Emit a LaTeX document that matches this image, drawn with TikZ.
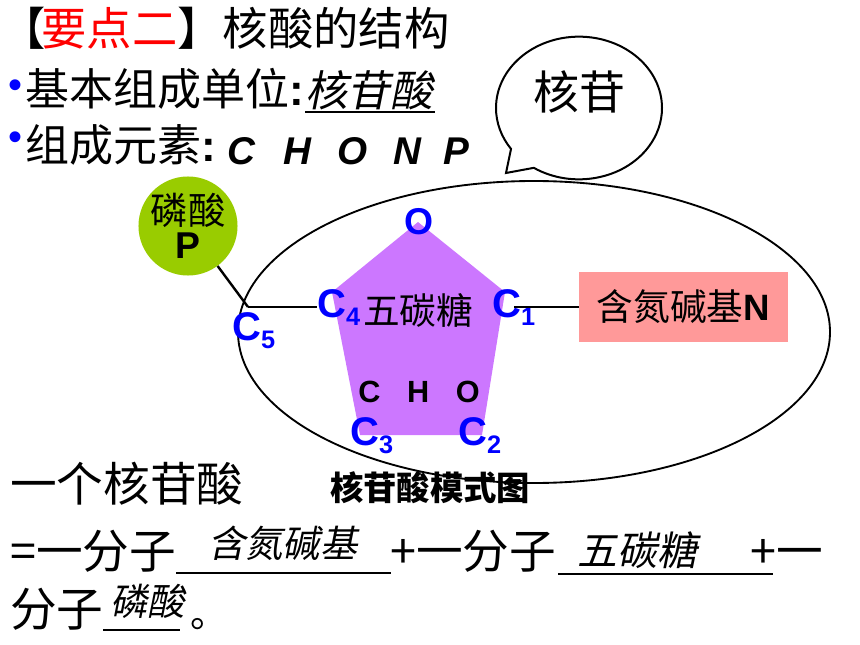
\documentclass[tikz,border=0pt]{standalone}
\usepackage{fontspec}
\setmainfont{Liberation Sans}
\newfontfamily\cjk{Noto Sans CJK SC}
\newfontfamily\cjkslant[FakeSlant=0.2]{Noto Sans CJK SC}
\usetikzlibrary{shapes,shapes.callouts,positioning}

\definecolor{sugar}{RGB}{204,119,255}
\definecolor{phosgreen}{RGB}{153,204,0}
\definecolor{basered}{RGB}{255,153,153}

\newcommand{\fsz}[1]{\fontsize{#1}{#1}\selectfont}
\newcommand{\carbon}[1]{C\raisebox{-6pt}{\fsz{19}#1}}

\begin{document}
\begin{tikzpicture}[
    x=0.75pt, y=-0.75pt,
    txt/.style={inner sep=0, anchor=base west},
    cnum/.style={txt, text=blue, font=\fsz{30}\bfseries},
    answer/.style={txt, font=\fsz{#1}\cjkslant},
    blank/.style={line width=2.2pt},
    bond/.style={line width=1.8pt},
    dot/.style={inner sep=0, text=blue, font=\fsz{30}},
    bubble/.style={ellipse callout, draw, fill=white, line width=1.5pt, inner sep=0, minimum width=124.5pt, minimum height=107pt, callout pointer arc=22}
]
\useasboundingbox (0,0) rectangle (860,645);

% Title and bullet lines
\node[txt, font=\fsz{34}\cjk] (title) at (0,46) {【\kern-3pt\textcolor{red}{要点二}】核酸的结构};
\node[dot] (dot1) at (16,89) {•};
\node[txt, font=\fsz{33}\cjk] (unit) at (25,106) {基本组成单位{\rmfamily\bfseries :}};
\node[answer=32] (unitans) at (305,107) {核苷酸};
\draw[line width=1.2pt] (305,112) -- (435,112);
\node[dot] (dot2) at (16,141) {•};
\node[txt, font=\fsz{33}\cjk] (elem) at (25,162) {组成元素{\rmfamily\bfseries :}};
\node[txt, font=\fsz{29}\bfseries\itshape] (chonp) at (227,165) {C\hspace{21pt}H\hspace{20pt}O\hspace{19pt}N\hspace{17pt}P};

% Nucleoside outline and speech bubble
\node[ellipse, draw, line width=1.4pt, minimum width=444pt, minimum height=226.5pt, inner sep=0] (nucleoside) at (534,332) {};
\coordinate (tip) at (506,173);
\node[bubble, callout absolute pointer={(tip)}] (bubble) at (579,108) {};
\node[inner sep=0, anchor=base, font=\fsz{34.5}\cjk] (bubbletext) at (579,110) {核苷};

% Pentose ring
\fill[sugar] (418,222) -- (505,292) -- (482,435) -- (360,435) -- (332,292) -- cycle;
\node[inner sep=0, anchor=base, text=blue, font=\fsz{28}\bfseries] (oxy) at (419,235) {O};
\node[cnum] (c4) at (317,317) {\carbon{4}};
\node[cnum] (c1) at (492,317) {\carbon{1}};
\node[cnum] (c5) at (232,340) {\carbon{5}};
\node[cnum] (c3) at (350,445) {\carbon{3}};
\node[cnum] (c2) at (458,445) {\carbon{2}};
\node[txt, font=\fsz{27.5}\cjk] (pentose) at (363,325) {五碳糖};
\node[txt, font=\fsz{23}\bfseries] (cho) at (358,402) {C\hspace{20pt}H\hspace{20pt}O};

% Phosphate and base
\node[circle, fill=phosgreen, minimum size=67.5pt, inner sep=0, align=center, font=\fontsize{28}{25.5}\selectfont\cjk] (phos) at (188,226) {磷酸\\\textbf{\rmfamily P}};
\node[fill=basered, minimum width=156.75pt, minimum height=52.5pt, inner sep=0, font=\fsz{27.5}\cjk] (base) at (683.5,307) {含氮碱基\textbf{\rmfamily N}};
\coordinate (c5j) at (248,307);

% Bonds
\draw[bond] (phos) -- (c5j);
\draw[bond] (c5j) -- (c5j -| c4.west);
\draw[bond] (base.west) -- (base.west -| c1.center);

% Caption
\node[txt, font=\fsz{25}\cjk\bfseries] (caption) at (330,500) {核苷酸模式图};

% Fill-in sentence
\node[txt, font=\fsz{35}\cjk] (line1) at (10,501) {一个核苷酸};
\node[txt, font=\fsz{35}\cjk] (line2a) at (10,568) {=一分子};
\node[answer=28] (ans1) at (208,557) {含氮碱基};
\draw[blank] (176,573) -- (391,573);
\node[txt, font=\fsz{35}\cjk] (line2b) at (390,568) {+一分子};
\node[answer=30] (ans2) at (577,565) {五碳糖};
\draw[blank] (558,574) -- (773,574);
\node[txt, font=\fsz{35}\cjk] (line2c) at (750,568) {+一};
\node[txt, font=\fsz{35}\cjk] (line3) at (10,626) {分子};
\node[answer=28] (ans3) at (110,615) {磷酸};
\draw[blank] (103,630) -- (180,630);
\node[txt, font=\fsz{28}\cjk] (stop) at (190,627) {。};

\end{tikzpicture}
\end{document}
